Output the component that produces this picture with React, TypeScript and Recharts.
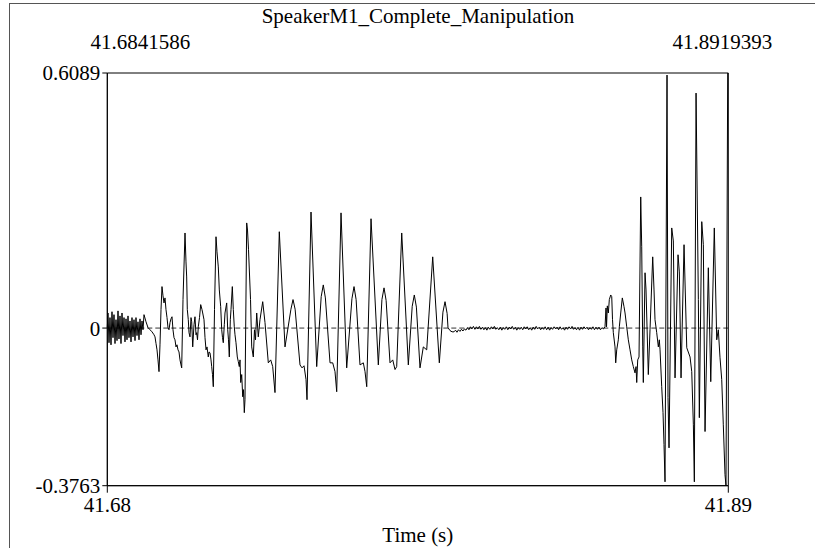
import { LineChart, Line, XAxis, YAxis, ReferenceLine, ReferenceArea } from "recharts";

const T0 = 41.6841586;
const T1 = 41.8919393;
const Y_MIN = -0.3763;
const Y_MAX = 0.6089;

const xTicks = [T0, T1];
const yTicks = [Y_MIN, 0, Y_MAX];

// waveform: [ms after T0, amplitude]
const leadNoise: [number, number][] = [
  [0, 0.001], [0.23, 0.036], [0.57, -0.035], [0.9, 0.025], [1.24, -0.04], [1.57, 0.039],
  [1.91, -0.023], [2.24, 0.032], [2.58, -0.037], [2.91, 0.02], [3.25, -0.03], [3.58, 0.041],
  [3.91, -0.026], [4.25, 0.029], [4.58, -0.037], [4.92, 0.036], [5.25, -0.018], [5.59, 0.025],
  [5.92, -0.033], [6.26, 0.022], [6.59, -0.028], [6.93, 0.029], [7.26, -0.023], [7.6, 0.017],
  [7.93, -0.033], [8.26, 0.025], [8.6, -0.021], [8.93, 0.02], [9.27, -0.03], [9.6, 0.025],
  [9.94, -0.018], [10.27, 0.015], [10.61, -0.028], [10.94, 0.022], [11.28, -0.016], [11.61, 0.017],
  [11.95, -0.004], [12.28, 0.032],
];

const onset: [number, number][] = [
  [12.95, 0.015], [13.62, 0.001], [14.29, -0.004], [14.96, -0.009], [15.63, -0.016], [15.96, -0.021],
  [16.3, -0.037], [16.63, -0.052], [16.96, -0.076], [17.3, -0.104], [17.63, -0.04], [17.97, 0.044],
  [18.3, 0.099], [18.64, 0.077], [18.97, 0.06], [19.31, 0.072], [19.64, 0.044], [19.98, 0.025],
  [20.31, 0.001], [20.64, -0.004], [20.98, 0.013], [21.31, 0.022], [21.65, 0.027], [21.98, -0.004],
  [22.32, -0.023], [22.65, -0.028], [22.99, -0.045], [23.32, -0.04], [23.66, -0.052], [23.99, -0.057],
  [24.32, -0.076], [24.66, -0.088], [24.89, -0.095], [25.33, 0.068], [26.0, 0.227], [26.33, 0.158],
  [26.56, 0.122], [26.77, 0.044], [27.1, 0.02], [27.34, -0.011], [27.67, -0.021], [28.01, 0.025],
  [28.24, 0.015], [28.58, -0.045], [29.01, 0.008], [29.34, 0.027], [29.68, -0.016], [29.91, -0.011],
  [30.18, -0.028], [30.45, 0.003], [30.85, 0.025], [31.25, 0.056], [31.69, 0.044], [31.92, 0.036],
  [32.36, 0.02], [32.69, -0.023], [33.03, -0.052], [33.36, -0.045], [33.79, -0.069], [34.03, -0.057],
  [34.36, -0.059], [34.7, -0.076], [34.93, -0.092], [35.2, -0.111], [35.47, -0.14], [35.87, 0.044],
  [36.37, 0.218], [36.7, 0.182], [37.14, 0.146], [37.48, 0.091], [37.94, 0.051], [38.28, -0.004],
  [38.55, -0.023], [38.81, -0.035], [39.15, 0.008], [39.38, 0.036], [39.95, 0.06], [40.29, -0.004],
  [40.55, -0.028], [40.82, -0.069], [41.16, 0.02], [41.39, 0.044], [41.83, 0.099], [42.16, 0.044],
  [42.49, 0.003], [42.73, -0.016], [43.06, -0.035], [43.5, -0.069], [43.83, -0.08], [44.17, -0.092],
  [44.4, -0.076], [44.64, -0.13], [44.97, -0.111], [45.31, -0.164], [45.57, -0.147], [45.84, -0.202],
  [46.07, -0.171], [46.64, 0.251], [46.91, 0.234], [47.25, 0.187], [47.92, 0.068], [48.32, -0.045],
  [48.85, -0.069], [49.25, -0.004], [49.59, -0.028], [49.99, 0.036], [50.52, -0.021], [51.09, 0.02],
  [52.0, 0.063], [52.77, 0.013], [53.87, -0.083], [54.67, -0.076], [55.34, -0.092], [56.11, -0.154],
];

const vowel: [number, number][] = [
  [57.55, 0.23], [59.46, -0.045], [61.44, 0.045], [62.14, 0.068], [62.84, 0.045], [64.48, -0.088],
  [65.15, -0.095], [65.82, -0.09], [66.49, -0.123], [66.82, -0.171],
  [68.16, 0.277], [70.06, -0.092], [71.57, 0.075], [72.27, 0.103], [72.97, 0.072], [74.52, -0.083],
  [75.42, -0.083], [76.19, -0.104], [76.76, -0.152],
  [78.2, 0.275], [80.1, -0.095], [81.85, 0.07], [82.55, 0.099], [83.25, 0.068], [84.55, -0.088],
  [85.66, -0.083], [86.23, -0.104], [86.8, -0.14],
  [88.24, 0.261], [90.68, -0.088], [91.89, 0.068], [92.59, 0.096], [93.29, 0.066], [94.59, -0.083],
  [95.5, -0.076], [96.27, -0.099], [96.83, -0.092],
  [98.51, 0.227], [100.72, -0.088], [102.02, 0.052], [102.72, 0.079], [103.42, 0.05], [104.63, -0.095],
  [105.73, -0.045], [106.87, -0.052],
  [108.88, 0.17], [111.09, -0.083], [112.3, 0.038], [113.0, 0.063], [113.7, 0.035], [114.0, 0.001],
  [114.67, -0.006], [115.34, -0.009],
];

const closure: [number, number][] = [
  [116.0, -0.009], [116.5, -0.005], [117.0, -0.01], [117.5, -0.004], [118.0, -0.008], [118.5, -0.003],
  [119.0, -0.007], [119.5, -0.002], [120.0, -0.005], [120.5, 0.001], [121.0, -0.004], [121.5, 0.003],
  [122.0, -0.002], [122.5, 0.004], [123.0, -0.003], [123.5, 0.003], [124.0, -0.002], [124.5, 0.004],
  [125.0, -0.003], [125.5, 0.002], [126.0, -0.004], [126.5, 0.001], [127.0, -0.005], [127.5, 0.002],
  [128.0, -0.003], [128.5, 0.003], [129.0, -0.002], [129.5, 0.004], [130.0, -0.003], [130.5, 0.001],
  [131.0, -0.004], [131.5, 0.002], [132.0, -0.005], [132.5, 0.001], [133.0, -0.003], [133.5, 0.003],
  [134.0, -0.004], [134.5, 0.002], [135.0, -0.002], [135.5, 0.004], [136.0, -0.003], [136.5, 0.002],
  [137.0, -0.005], [137.5, 0.001], [138.0, -0.003], [138.5, 0.002], [139.0, -0.004], [139.5, 0.003],
  [140.0, -0.002], [140.5, 0.003], [141.0, -0.004], [141.5, 0.001], [142.0, -0.005], [142.5, 0.002],
  [143.0, -0.003], [143.5, 0.004], [144.0, -0.002], [144.5, 0.002], [145.0, -0.004], [145.5, 0.001],
  [146.0, -0.003], [146.5, 0.003], [147.0, -0.004], [147.5, 0.002], [148.0, -0.005], [148.5, 0.001],
  [149.0, -0.003], [149.5, 0.003], [150.0, -0.002], [150.5, 0.002], [151.0, -0.004], [151.5, 0.003],
  [152.0, -0.003], [152.5, 0.001], [153.0, -0.005], [153.5, 0.002], [154.0, -0.003], [154.5, 0.003],
  [155.0, -0.002], [155.5, 0.004], [156.0, -0.003], [156.5, 0.001], [157.0, -0.004], [157.5, 0.002],
  [158.0, -0.005], [158.5, 0.002], [159.0, -0.003], [159.5, 0.003], [160.0, -0.002], [160.5, 0.002],
  [161.0, -0.004], [161.5, 0.001], [162.0, -0.003], [162.5, 0.003], [163.0, -0.004], [163.5, 0.002],
  [164.0, -0.003], [164.5, 0.002], [165.0, -0.004], [165.5, 0.001], [166.0, -0.002],
];

const burst: [number, number][] = [
  [166.53, 0.003], [166.87, 0.048], [167.04, 0.003], [167.3, 0.053], [167.64, 0.036], [167.97, 0.068],
  [168.44, 0.079], [168.78, 0.075], [169.04, 0.02], [169.31, -0.011], [169.88, -0.045], [170.11, -0.083],
  [170.45, -0.052], [170.98, -0.028], [171.32, 0.003], [171.79, 0.036], [172.32, 0.072], [172.89, 0.051],
  [173.23, 0.036], [173.79, 0.003], [174.33, -0.028], [174.9, -0.052], [175.47, -0.076], [176.0, -0.092],
  [176.57, -0.107], [176.91, -0.092], [177.14, -0.13], [177.47, -0.076], [177.91, -0.069], [178.48, 0.313],
  [178.81, 0.194], [179.15, -0.045], [179.35, -0.13], [179.92, 0.132], [180.25, 0.091], [181.02, -0.111],
  [181.59, -0.004], [182.49, 0.17], [182.93, 0.091], [183.26, 0.02], [183.83, -0.011], [184.37, -0.045],
  [184.7, -0.028], [184.94, -0.052], [185.5, -0.14], [185.94, -0.202], [186.27, -0.278], [186.61, -0.367],
  [187.28, 0.604], [187.61, -0.166], [187.95, -0.286], [188.85, 0.239], [189.39, 0.208], [189.96, -0.119],
  [190.96, 0.175], [191.4, 0.134], [191.97, -0.119], [192.97, 0.199], [193.88, -0.047], [194.98, -0.069],
  [195.55, -0.104], [196.09, -0.231], [196.42, -0.367], [196.99, 0.561], [197.76, 0.068], [198.09, -0.214],
  [198.9, 0.254], [199.43, 0.199], [200.0, -0.247], [201.1, 0.144], [201.91, -0.128], [203.1, 0.239],
  [203.91, -0.028], [204.44, -0.004], [205.01, -0.071], [205.58, -0.123], [206.11, -0.231], [206.68, -0.35],
  [207.01, -0.3763], [207.58, 0.6089],
];

const data = [...leadNoise, ...onset, ...vowel, ...closure, ...burst].map(([ms, v]) => ({
  t: T0 + ms / 1000,
  v,
}));

const font = "'Liberation Serif', 'Times New Roman', serif";
const tickStyle = { fontFamily: font, fontSize: 21, fill: "#000" };

function TopTick({ x, y, payload }: any) {
  const isLeft = payload.value < (T0 + T1) / 2;
  return (
    <text x={x + (isLeft ? 33 : -6)} y={y - 16} textAnchor="middle" fontFamily={font} fontSize={21} fill="#000">
      {payload.value.toFixed(7)}
    </text>
  );
}

export default function App() {
  return (
    <div style={{ position: "fixed", left: 0, top: 0, width: 815, height: 548, background: "#fff", fontFamily: font }}>
      <div
        style={{
          position: "absolute",
          left: 9,
          top: 3,
          right: 0,
          bottom: 0,
          borderLeft: "1px solid #555",
          borderTop: "1px solid #555",
        }}
      />
      <div
        style={{
          position: "absolute",
          left: 0,
          width: 836,
          top: 4,
          textAlign: "center",
          fontFamily: font,
          fontSize: 21,
          color: "#000",
        }}
      >
        SpeakerM1_Complete_Manipulation
      </div>
      <div style={{ position: "absolute", left: 0, top: 0 }}>
        <LineChart width={815} height={548} data={data} margin={{ top: 33, right: 86.7, bottom: 2.3, left: 47.3 }}>
          <XAxis
            xAxisId="top"
            orientation="top"
            dataKey="t"
            type="number"
            domain={[T0, T1]}
            ticks={xTicks}
            height={40}
            axisLine={false}
            tickLine={false}
            tick={<TopTick />}
          />
          <XAxis
            dataKey="t"
            type="number"
            domain={[T0, T1]}
            ticks={xTicks}
            height={60}
            tickSize={7}
            tickMargin={4}
            stroke="#000"
            tick={tickStyle}
            tickFormatter={(v: number) => v.toFixed(2)}
            label={{ value: "Time (s)", position: "insideBottom", offset: 4, style: tickStyle }}
          />
          <YAxis
            type="number"
            domain={[Y_MIN, Y_MAX]}
            ticks={yTicks}
            width={60}
            tickSize={5}
            tickMargin={2}
            stroke="#000"
            tick={tickStyle}
            tickFormatter={(v: number) => (v === 0 ? "0" : v.toFixed(4))}
          />
          <ReferenceArea
            x1={T0}
            x2={T1}
            y1={Y_MIN}
            y2={Y_MAX}
            fill="none"
            stroke="#000"
            strokeWidth={1}
            ifOverflow="visible"
          />
          <ReferenceLine y={0} stroke="#333" strokeDasharray="5 3" />
          <Line
            type="linear"
            dataKey="v"
            stroke="#000"
            strokeWidth={1}
            dot={false}
            isAnimationActive={false}
          />
        </LineChart>
      </div>
    </div>
  );
}
